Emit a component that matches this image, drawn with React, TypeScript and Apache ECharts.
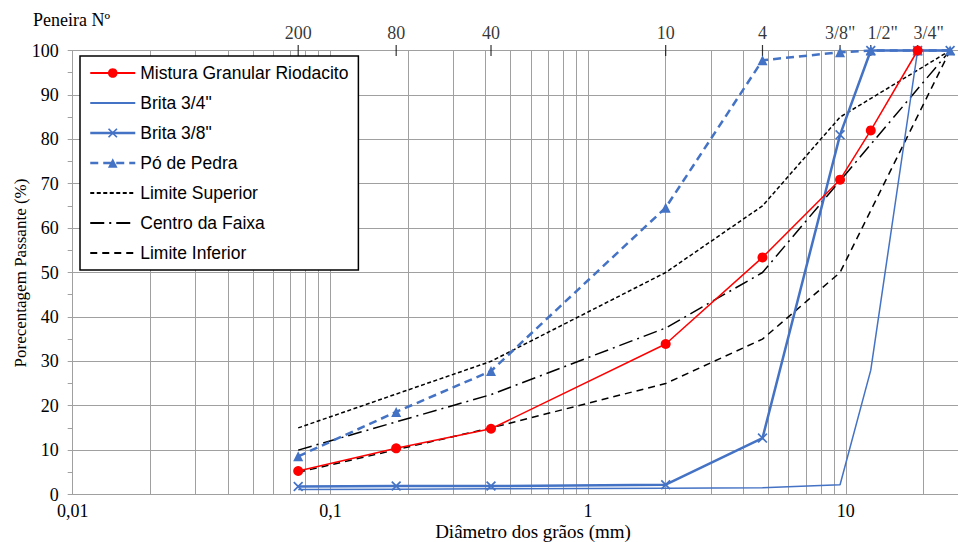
import React, { useEffect, useRef } from "react";
import * as echarts from "echarts";

// Sieve (top axis)
const sieveLabels = ["200", "80", "40", "10", "4", '3/8"', '1/2"', '3/4"'];
const sieveSizes = [0.075, 0.18, 0.42, 2.0, 4.75, 9.5, 12.5, 19.0];

// Grain sizes (mm) for material curves
const sizes = [0.075, 0.18, 0.42, 2.0, 4.75, 9.5, 12.5, 19.0, 25.4];
const mistura = [5.3, 10.4, 14.8, 33.9, 53.4, 70.9, 82.0, 100];
const brita34 = [1.1, 1.2, 1.3, 1.4, 1.5, 2.2, 28.0, 100, 100];
const brita38 = [1.8, 1.9, 1.9, 2.2, 12.7, 81.0, 100, 100, 100];
const poPedra = [8.6, 18.6, 27.8, 64.6, 97.8, 99.6, 100, 100, 100];

// Band limits
const limSizes = [0.075, 0.42, 2.0, 4.75, 9.5, 25.4];
const limSup = [15, 30, 50, 65, 85, 100];
const limInf = [5, 15, 25, 35, 50, 100];
const centroSizes = [0.075, 0.42, 2.0, 4.75, 25.4];
const centro = [10, 22.5, 37.5, 50, 100];

const xTickLabels: Record<string, string> = { "0.01": "0,01", "0.1": "0,1", "1": "1", "10": "10" };

const BLUE = "#4472C4";
const GRID = "#a0a0a0";
const SERIF = "'Liberation Serif', 'Times New Roman', serif";
const SANS = "'Liberation Sans', Arial, sans-serif";

const pair = (xs: number[], ys: number[]) => ys.map((y, i) => [xs[i], y]);

// label nudges for the inch sieves (as in the reference layout)
const labelNudge: Record<string, number> = { '1/2"': 12, '3/4"': 11 };

export default function App() {
  const ref = useRef<HTMLDivElement>(null);
  useEffect(() => {
    if (!ref.current) return;
    const chart = echarts.init(ref.current, undefined, { renderer: "svg" });
    const gridLeft = 72.7;
    const decadePx = 257.7;
    const xMin = 0.01;
    const xMax = Math.pow(10, -2 + (958 - gridLeft) / decadePx);

    const gridVals: number[] = [];
    [0.01, 0.1, 1, 10].forEach((d) => {
      for (let k = 1; k <= 9; k++) {
        const v = +(d * k).toPrecision(3);
        if (v > xMin && v < xMax) gridVals.push(v);
      }
    });

    const noSymbol = { itemStyle: { opacity: 0, borderWidth: 0 } };

    const option: any = {
      animation: false,
      backgroundColor: "#ffffff",
      grid: { left: gridLeft, right: 0, top: 50.5, height: 444, containLabel: false },
      xAxis: {
        type: "log",
        logBase: 10,
        min: xMin,
        max: xMax,
        axisLine: { show: true, lineStyle: { color: GRID, width: 1 } },
        axisTick: { show: false },
        splitLine: { show: false },
        minorSplitLine: { show: false },
        axisLabel: {
          margin: 7,
          color: "#000",
          fontFamily: SERIF,
          fontSize: 18,
          showMaxLabel: false,
          formatter: (v: number) => {
            const key = String(+v.toPrecision(6));
            return xTickLabels[key] ?? "";
          },
        },
      },
      yAxis: {
        type: "value",
        min: 0,
        max: 100,
        interval: 10,
        axisLine: { show: true, lineStyle: { color: GRID, width: 1 } },
        axisTick: { show: true, length: 5, inside: false, lineStyle: { color: GRID } },
        minorTick: { show: true, splitNumber: 2, length: 5, lineStyle: { color: GRID } },
        splitLine: { show: true, lineStyle: { color: GRID, width: 1 } },
        axisLabel: { margin: 14, color: "#000", fontFamily: SERIF, fontSize: 18 },
      },
      legend: {
        orient: "vertical",
        left: 80,
        top: 56,
        padding: [8, 10, 8, 9],
        itemGap: 12,
        itemWidth: 45,
        itemHeight: 12,
        backgroundColor: "#ffffff",
        borderColor: "#000000",
        borderWidth: 1.5,
        borderRadius: 0,
        textStyle: { fontFamily: SANS, fontSize: 17.5, color: "#000", lineHeight: 18 },
        data: [
          { name: "Mistura Granular Riodacito" },
          { name: 'Brita 3/4"', ...noSymbol },
          { name: 'Brita 3/8"', lineStyle: { width: 2.5 } },
          { name: "Pó de Pedra", lineStyle: { width: 2.5 } },
          { name: "Limite Superior", ...noSymbol },
          { name: "Centro da Faixa", ...noSymbol },
          { name: "Limite Inferior", ...noSymbol },
        ],
      },
      graphic: [
        {
          type: "text",
          left: 33,
          top: 11,
          style: { text: "Peneira Nº", font: `18px ${SERIF}`, fill: "#000" },
        },
        {
          type: "text",
          x: 20,
          y: 273,
          rotation: Math.PI / 2,
          style: {
            text: "Porecentagem Passante (%)",
            font: `17px ${SERIF}`,
            fill: "#000",
            align: "center",
            verticalAlign: "middle",
          },
        },
        {
          type: "text",
          x: 533,
          y: 531,
          style: {
            text: "Diâmetro dos grãos (mm)",
            font: `19px ${SERIF}`,
            fill: "#000",
            align: "center",
            verticalAlign: "middle",
          },
        },
      ],
      series: [
        {
          name: "gridlines",
          type: "line",
          data: [],
          silent: true,
          markLine: {
            silent: true,
            z: 0,
            symbol: "none",
            label: { show: false },
            lineStyle: { color: GRID, width: 1, type: "solid" },
            data: gridVals.map((v) => ({ xAxis: v })),
          },
        },
        {
          name: "sieves",
          type: "scatter",
          z: 1,
          silent: true,
          symbol: "rect",
          symbolSize: [1.2, 11],
          itemStyle: { color: "#000" },
          clip: false,
          label: {
            show: true,
            position: "top",
            distance: 3,
            color: "#000",
            fontFamily: SERIF,
            fontSize: 18,
            formatter: (p: any) => sieveLabels[p.dataIndex],
          },
          data: sieveSizes.map((s, i) => ({
            value: [s, 100],
            label: { offset: [labelNudge[sieveLabels[i]] ?? 0, 0] },
          })),
        },
        {
          name: "Limite Superior",
          type: "line",
          z: 3,
          clip: false,
          symbol: "none",
          color: "#000",
          lineStyle: { color: "#000", width: 1.5, type: [4, 2.5] },
          data: pair(limSizes, limSup),
        },
        {
          name: "Centro da Faixa",
          type: "line",
          z: 3,
          clip: false,
          symbol: "none",
          color: "#000",
          lineStyle: { color: "#000", width: 1.5, type: [14, 5, 2, 5] },
          data: pair(centroSizes, centro),
        },
        {
          name: "Limite Inferior",
          type: "line",
          z: 3,
          clip: false,
          symbol: "none",
          color: "#000",
          lineStyle: { color: "#000", width: 1.5, type: [7, 5] },
          data: pair(limSizes, limInf),
        },
        {
          name: 'Brita 3/4"',
          type: "line",
          z: 4,
          clip: false,
          symbol: "none",
          color: BLUE,
          lineStyle: { color: BLUE, width: 1.5 },
          data: pair(sizes, brita34),
        },
        {
          name: 'Brita 3/8"',
          type: "line",
          z: 4,
          clip: false,
          symbol: "path://M0,1.2 L1.2,0 L5,3.8 L8.8,0 L10,1.2 L6.2,5 L10,8.8 L8.8,10 L5,6.2 L1.2,10 L0,8.8 L3.8,5 Z",
          symbolSize: 10,
          showAllSymbol: true,
          color: BLUE,
          itemStyle: { color: BLUE },
          lineStyle: { color: BLUE, width: 2.5 },
          data: pair(sizes, brita38),
        },
        {
          name: "Pó de Pedra",
          type: "line",
          z: 4,
          clip: false,
          symbol: "triangle",
          symbolSize: 10,
          showAllSymbol: true,
          color: BLUE,
          itemStyle: { color: BLUE },
          lineStyle: { color: BLUE, width: 2.5, type: [8, 5] },
          data: pair(sizes, poPedra),
        },
        {
          name: "Mistura Granular Riodacito",
          type: "line",
          z: 5,
          clip: false,
          symbol: "circle",
          symbolSize: 10,
          showAllSymbol: true,
          color: "#FF0000",
          itemStyle: { color: "#FF0000" },
          lineStyle: { color: "#FF0000", width: 1.5 },
          data: pair(sizes, mistura),
        },
      ],
    };
    chart.setOption(option);
    return () => chart.dispose();
  }, []);

  return (
    <div
      ref={ref}
      style={{ position: "absolute", left: 0, top: 0, width: 958, height: 542, background: "#fff" }}
    />
  );
}
